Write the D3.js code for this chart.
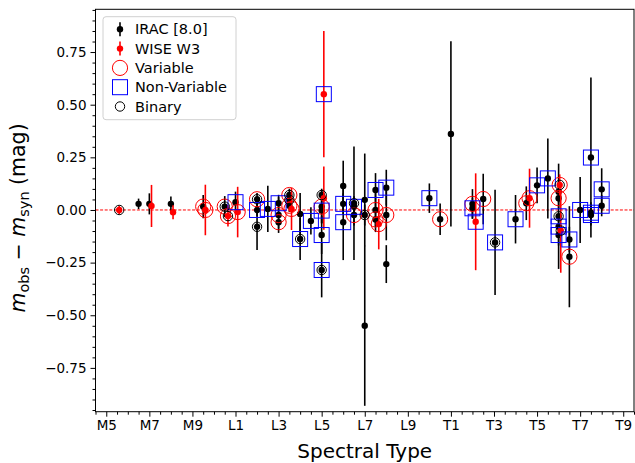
<!DOCTYPE html>
<html lang="en">
<head>
<meta charset="UTF-8">
<title>Photometry residuals vs spectral type</title>
<script src="https://cdn.jsdelivr.net/npm/d3@7"></script>
<style>
  body { margin: 0; background: #fff; font-family: "DejaVu Sans", sans-serif; }
  svg text { font-family: "DejaVu Sans", sans-serif; fill: #000; }
</style>
</head>
<body>
<div id="chart"></div>
<script>
// spectral type numeric: M5=5 ... L0=10 ... T0=20 ... T9=29
const xTickVals = [5, 7, 9, 11, 13, 15, 17, 19, 21, 23, 25, 27, 29];
const xTickLabels = ["M5", "M7", "M9", "L1", "L3", "L5", "L7", "L9", "T1", "T3", "T5", "T7", "T9"];
const yTickVals = [-0.75, -0.5, -0.25, 0, 0.25, 0.5, 0.75];

// IRAC [8.0] residuals
const iracSpt  = [6.5, 7.0, 8.0, 9.5, 10.5, 11.0, 12.0, 12.0, 12.0, 12.5, 13.0, 13.0, 13.0, 13.5, 13.5, 13.5,
                  14.0, 14.0, 14.5, 15.0, 15.0, 15.0, 15.0, 15.0, 16.0, 16.0, 16.0, 16.5, 16.5, 16.5,
                  17.0, 17.0, 17.0, 17.5, 17.5, 17.5, 18.0, 18.0, 18.0, 20.0, 20.5, 21.0, 22.0, 22.0,
                  22.5, 23.05, 24.0, 24.5, 25.0, 25.5, 26.0, 26.0, 26.0, 26.0, 26.0, 26.5, 26.5, 27.0,
                  27.5, 27.5, 27.5, 28.0, 28.0];
const iracDiff = [0.029, 0.029, 0.029, 0.016, 0.016, 0.037, 0.051, 0.0, -0.08, 0.005, 0.032, -0.024, -0.058, 0.071, 0.048, 0.02,
                  -0.019, -0.138, -0.052, 0.071, 0.016, -0.003, -0.119, -0.285, 0.114, 0.029, -0.058, 0.032, 0.015, -0.024,
                  0.048, -0.024, -0.55, 0.095, 0.0, -0.045, 0.106, -0.024, -0.257, 0.056, -0.044, 0.361, 0.029, 0.008,
                  0.052, -0.154, -0.044, 0.032, 0.117, 0.15, 0.087, 0.056, -0.03, -0.079, -0.119, -0.14, -0.222, 0.0,
                  0.249, -0.013, -0.024, 0.098, 0.02];
const iracErr  = [0.025, 0.05, 0.035, 0.055, 0.05, 0.05, 0.03, 0.03, 0.11, 0.11, 0.04, 0.085, 0.03, 0.03, 0.03, 0.03,
                  0.1, 0.1, 0.065, 0.03, 0.08, 0.06, 0.09, 0.13, 0.12, 0.05, 0.18, 0.27, 0.05, 0.05,
                  0.22, 0.05, 0.38, 0.08, 0.08, 0.06, 0.085, 0.12, 0.09, 0.07, 0.075, 0.44, 0.07, 0.05,
                  0.12, 0.25, 0.115, 0.08, 0.085, 0.19, 0.05, 0.05, 0.25, 0.05, 0.05, 0.06, 0.24, 0.157,
                  0.38, 0.05, 0.05, 0.1, 0.05];
// V = variable, N = non-variable, "" = not classified
const iracVar  = ["", "", "", "V", "V", "N", "V", "N", "", "N", "N", "V", "V", "V", "", "V",
                  "", "N", "N", "", "V", "N", "N", "N", "", "N", "N", "", "N", "V",
                  "", "", "", "N", "V", "V", "N", "V", "", "N", "V", "", "V", "N",
                  "V", "N", "N", "V", "N", "N", "", "V", "N", "N", "N", "N", "V", "N",
                  "N", "N", "N", "N", "N"];
const iracBin  = [0, 0, 0, 0, 1, 0, 1, 0, 1, 0, 0, 0, 0, 1, 1, 0,
                  0, 1, 0, 1, 0, 0, 0, 1, 0, 0, 0, 1, 0, 0,
                  0, 1, 0, 0, 0, 0, 0, 0, 0, 0, 0, 0, 0, 0,
                  0, 1, 0, 0, 0, 0, 0, 0, 1, 0, 0, 0, 0, 0,
                  0, 0, 0, 0, 0];

// WISE W3 residuals
const wiseSpt  = [5.6, 7.1, 8.1, 9.6, 10.65, 11.1, 13.6, 15.1, 15.1, 17.65, 22.15, 24.65, 26.05, 26.1];
const wiseDiff = [0.0, 0.019, -0.011, 0.0, -0.029, -0.01, 0.005, 0.55, 0.056, -0.067, -0.056, 0.056, 0.119, -0.098];
const wiseErr  = [0.02, 0.1, 0.033, 0.12, 0.05, 0.12, 0.1, 0.3, 0.15, 0.12, 0.23, 0.14, 0.05, 0.2];
const wiseVar  = ["", "", "", "V", "V", "V", "V", "N", "", "V", "N", "V", "V", ""];
const wiseBin  = [1, 0, 0, 0, 1, 0, 0, 0, 0, 0, 0, 0, 1, 1];

const legendLabels = ["IRAC [8.0]", "WISE W3", "Variable", "Non-Variable", "Binary"];

const width = 635, height = 463;
const margin = {left: 95.5, right: 1, top: 9.3, bottom: 51.3};

const svg = d3.select("#chart").append("svg")
    .attr("width", width)
    .attr("height", height);

const x = d3.scaleLinear().domain([4.5, 29.5]).range([margin.left, width - margin.right]);
const y = d3.scaleLinear().domain([-0.958, 0.953]).range([height - margin.bottom, margin.top]);

function rows(spt, diff, err, vr, bin, color) {
    return spt.map((s, i) => ({s: s, v: diff[i], e: err[i], cls: vr[i], bin: bin[i], color: color}));
}
const irac = rows(iracSpt, iracDiff, iracErr, iracVar, iracBin, "#000");
const wise = rows(wiseSpt, wiseDiff, wiseErr, wiseVar, wiseBin, "#ff0000");
const all = irac.concat(wise);

// zero line
svg.append("line")
    .attr("x1", x.range()[0]).attr("x2", x.range()[1])
    .attr("y1", y(0)).attr("y2", y(0))
    .attr("stroke", "#ff0000").attr("stroke-width", 1)
    .attr("stroke-dasharray", "3,1.6");

const plot = svg.append("g");

// error bars + points
[irac, wise].forEach(set => {
    plot.append("g").selectAll("line").data(set).join("line")
        .attr("x1", d => x(d.s)).attr("x2", d => x(d.s))
        .attr("y1", d => y(d.v - d.e)).attr("y2", d => y(d.v + d.e))
        .attr("stroke", d => d.color).attr("stroke-width", 1.6);
    plot.append("g").selectAll("circle").data(set).join("circle")
        .attr("cx", d => x(d.s)).attr("cy", d => y(d.v))
        .attr("r", 3.2).attr("fill", d => d.color);
});

// class markers
plot.append("g").selectAll("circle").data(all.filter(d => d.cls === "V")).join("circle")
    .attr("cx", d => x(d.s)).attr("cy", d => y(d.v)).attr("r", 7.6)
    .attr("fill", "none").attr("stroke", "#ff0000").attr("stroke-width", 1);
plot.append("g").selectAll("rect").data(all.filter(d => d.cls === "N")).join("rect")
    .attr("x", d => x(d.s) - 7.5).attr("y", d => y(d.v) - 7.5)
    .attr("width", 15).attr("height", 15)
    .attr("fill", "none").attr("stroke", "#0000ff").attr("stroke-width", 1);
plot.append("g").selectAll("circle").data(all.filter(d => d.bin)).join("circle")
    .attr("cx", d => x(d.s)).attr("cy", d => y(d.v)).attr("r", 4.7)
    .attr("fill", "none").attr("stroke", "#000").attr("stroke-width", 1);

// axes (major and minor ticks in separate groups)
const xAxis = d3.axisBottom(x).tickValues(xTickVals)
    .tickFormat((d, i) => xTickLabels[i]).tickSize(5).tickPadding(4);
const xMinor = d3.axisBottom(x).tickValues(d3.range(4.5, 29.51, 0.5).filter(v => !xTickVals.includes(v)))
    .tickFormat("").tickSize(3);
const yAxis = d3.axisLeft(y).tickValues(yTickVals)
    .tickFormat(d => d3.format(".2f")(d).replace("-", "\u2212")).tickSize(5).tickPadding(4);
const yMinor = d3.axisLeft(y).tickValues(d3.range(-0.95, 0.951, 0.05).map(v => +v.toFixed(2)).filter(v => !yTickVals.includes(v)))
    .tickFormat("").tickSize(3);

svg.append("g").attr("transform", `translate(0,${y.range()[0]})`).call(xMinor);
svg.append("g").attr("transform", `translate(0,${y.range()[0]})`).call(xAxis);
svg.append("g").attr("transform", `translate(${x.range()[0]},0)`).call(yMinor);
svg.append("g").attr("transform", `translate(${x.range()[0]},0)`).call(yAxis);
svg.selectAll(".domain").remove();
svg.selectAll(".tick line").attr("stroke", "#000").attr("stroke-width", 1);
svg.selectAll(".tick text").style("font-size", "13.5px").attr("fill", "#000");

svg.append("rect")
    .attr("x", x.range()[0]).attr("y", y.range()[1])
    .attr("width", x.range()[1] - x.range()[0]).attr("height", y.range()[0] - y.range()[1])
    .attr("fill", "none").attr("stroke", "#000").attr("stroke-width", 1);

// axis labels
svg.append("text")
    .attr("x", (x.range()[0] + x.range()[1]) / 2).attr("y", 458)
    .attr("text-anchor", "middle").style("font-size", "20px")
    .text("Spectral Type");

const yl = svg.append("text")
    .attr("transform", `translate(25,${y(0) + 8}) rotate(-90)`)
    .attr("text-anchor", "middle").style("font-size", "20.5px");
yl.append("tspan").style("font-style", "italic").text("m");
yl.append("tspan").attr("dy", 4).style("font-size", "14.5px").text("obs");
yl.append("tspan").attr("dy", -4).text(" \u2212 ");
yl.append("tspan").style("font-style", "italic").text("m");
yl.append("tspan").attr("dy", 4).style("font-size", "14.5px").text("syn");
yl.append("tspan").attr("dy", -4).text(" (mag)");

// legend
const lg = svg.append("g").attr("transform", "translate(103,16.7)");
lg.append("rect").attr("width", 133).attr("height", 103).attr("rx", 3)
    .attr("fill", "#fff").attr("fill-opacity", 0.8)
    .attr("stroke", "#d0d0d0").attr("stroke-width", 1);
legendLabels.forEach((t, i) => {
    const cy = 12.6 + i * 19.3;
    const g = lg.append("g").attr("transform", `translate(17,${cy})`);
    if (i < 2) {
        const c = i === 0 ? "#000" : "#ff0000";
        g.append("line").attr("y1", -7).attr("y2", 7).attr("stroke", c).attr("stroke-width", 1.6);
        g.append("circle").attr("r", 3.2).attr("fill", c);
    } else if (i === 2) {
        g.append("circle").attr("r", 7.6).attr("fill", "none").attr("stroke", "#ff0000");
    } else if (i === 3) {
        g.append("rect").attr("x", -7.5).attr("y", -7.5).attr("width", 15).attr("height", 15)
            .attr("fill", "none").attr("stroke", "#0000ff");
    } else {
        g.append("circle").attr("r", 4.7).attr("fill", "none").attr("stroke", "#000");
    }
    lg.append("text").attr("x", 32).attr("y", cy).attr("dy", "0.35em")
        .style("font-size", "14.5px").text(t);
});
</script>
</body>
</html>
